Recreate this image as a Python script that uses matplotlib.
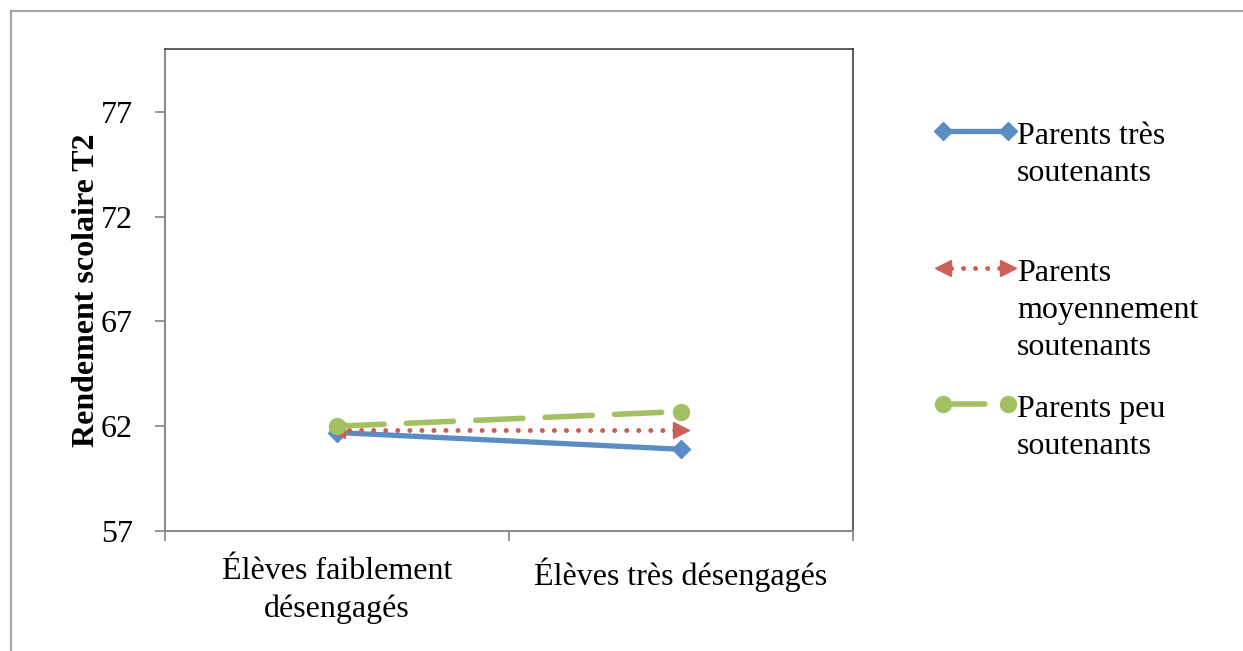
import matplotlib
matplotlib.use("Agg")
import matplotlib.pyplot as plt
from matplotlib.lines import Line2D

plt.rcParams['font.family'] = ['Liberation Serif', 'DejaVu Serif']

categories = ['Élèves faiblement\ndésengagés', 'Élèves très désengagés']
series_names = ['Parents très\nsoutenants',
                'Parents\nmoyennement\nsoutenants',
                'Parents peu\nsoutenants']
tres = [61.7, 60.9]
moyen = [61.8, 61.8]
peu = [62.0, 62.7]
yticks = [57, 62, 67, 72, 77]

blue = '#5a8dc6'
red = '#cd5f59'
green = '#a3c163'
fs = 23

fig = plt.figure(figsize=(12.43, 6.51), dpi=100)
ax = fig.add_axes([0.1327, 0.1843, 0.5535, 0.7404])

x = [0, 1]
# blue: solid with diamond ends
ax.plot(x, tres, color=blue, lw=3.8, solid_capstyle='butt', zorder=3)
ax.plot(x, tres, ls='none', marker='D', ms=9.5, color=blue, zorder=3)
# red: dotted with arrow-like triangle ends
ax.plot(x, moyen, color=red, lw=3.6, dashes=[0.01, 2.4], dash_capstyle='round', zorder=3)
ax.plot(x[0], moyen[0], marker='<', ms=12, color=red, ls='none', zorder=3)
ax.plot(x[1], moyen[1], marker='>', ms=12, color=red, ls='none', zorder=3)
# green: long dashes with round ends
ax.plot(x, peu, color=green, lw=4.0, dashes=[8.5, 4.0], dash_capstyle='round', zorder=4)
ax.plot(x, peu, ls='none', marker='o', ms=11.5, color=green, zorder=4)

ax.set_xlim(-0.5, 1.5)
ax.set_ylim(57, 80)
ax.set_yticks(yticks)
ax.set_yticklabels([str(v) for v in yticks], fontsize=fs)
ax.set_xticks(x)
ax.set_xticklabels(categories, fontsize=fs, linespacing=1.35)
ax.set_xticks([-0.5, 0.5, 1.5], minor=True)
ax.tick_params(axis='x', which='major', length=0, pad=19)
ax.tick_params(axis='x', which='minor', length=7, color='#8c8c8c', width=1.3, direction='out')
ax.tick_params(axis='y', length=7, color='#8c8c8c', width=1.3, direction='out', pad=16)
ax.set_ylabel('Rendement scolaire T2', fontsize=fs, fontweight='bold', labelpad=0)

for s in ['left', 'bottom']:
    ax.spines[s].set_color('#8c8c8c')
    ax.spines[s].set_linewidth(1.5)
for s in ['top', 'right']:
    ax.spines[s].set_color('#404040')
    ax.spines[s].set_linewidth(1.2)

# outer chart frame (cropped at right/bottom)
W, H = 1243.0, 651.0
fig.add_artist(Line2D([11 / W, 11 / W], [0, 1 - 11 / H], color='#a6a6a6', lw=1.6,
                      transform=fig.transFigure))
fig.add_artist(Line2D([11 / W, 1], [1 - 11 / H, 1 - 11 / H], color='#a6a6a6', lw=1.6,
                      transform=fig.transFigure))

# manual legend
leg_y = [131, 268, 404]
tx = 1017 / W
x0, x1 = 943 / W, 1008 / W
tf = fig.transFigure
y = 1 - leg_y[0] / H
fig.add_artist(Line2D([x0, x1], [y, y], color=blue, lw=3.8, marker='D', ms=9.5, transform=tf))
y = 1 - leg_y[1] / H
fig.add_artist(Line2D([x0 + 8 / W, x1 - 8 / W], [y, y], color=red, lw=3.6, dashes=[0.01, 2.4],
                      dash_capstyle='round', transform=tf))
fig.add_artist(Line2D([x0], [y], color=red, marker='<', ms=12, ls='none', transform=tf))
fig.add_artist(Line2D([x1], [y], color=red, marker='>', ms=12, ls='none', transform=tf))
y = 1 - leg_y[2] / H
fig.add_artist(Line2D([x0, 985 / W], [y, y], color=green, lw=4.0,
                      solid_capstyle='round', transform=tf))
fig.add_artist(Line2D([x0, x1], [y, y], color=green, ls='none', marker='o', ms=11.5, transform=tf))
for name, ly in zip(series_names, leg_y):
    fig.text(tx, 1 - (ly - 9) / H, name, fontsize=fs, va='top', ha='left', linespacing=1.37)

fig.savefig('out.png', dpi=100)
